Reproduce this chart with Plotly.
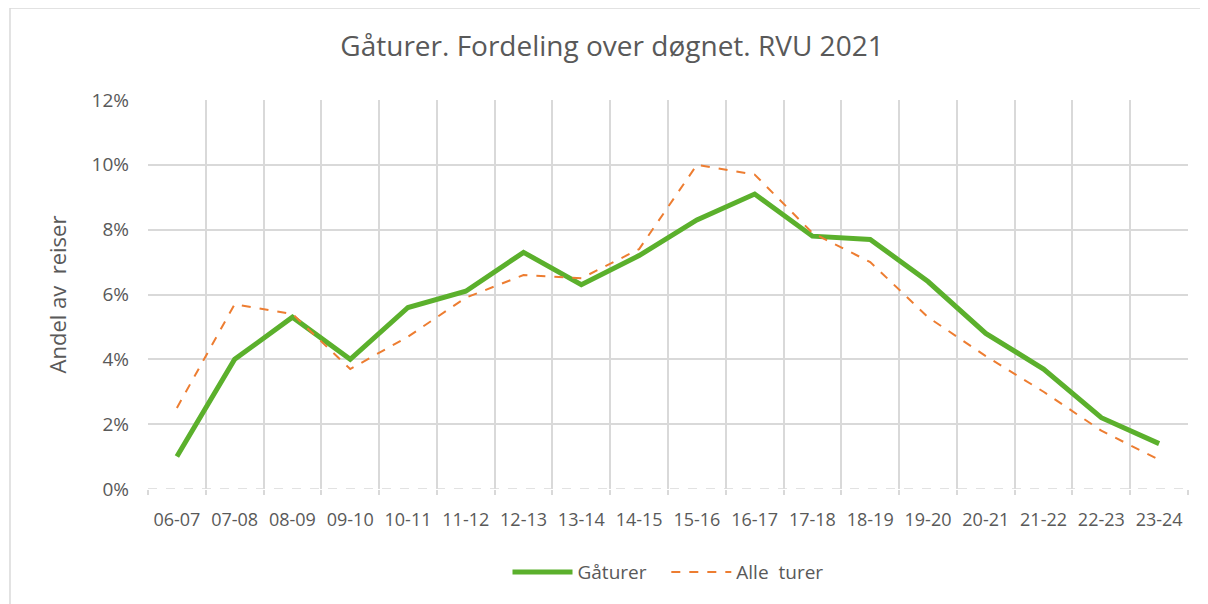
import plotly.graph_objects as go

# Time-of-day slots and share of trips (percent)
hours = ["06-07", "07-08", "08-09", "09-10", "10-11", "11-12", "12-13", "13-14", "14-15",
         "15-16", "16-17", "17-18", "18-19", "19-20", "20-21", "21-22", "22-23", "23-24"]
gaaturer = [1.0, 4.0, 5.3, 4.0, 5.6, 6.1, 7.3, 6.3, 7.2,
            8.3, 9.1, 7.8, 7.7, 6.4, 4.8, 3.7, 2.2, 1.4]
alle_turer = [2.5, 5.7, 5.4, 3.7, 4.7, 5.9, 6.6, 6.5, 7.4,
              10.0, 9.7, 7.9, 7.0, 5.3, 4.1, 3.0, 1.8, 0.9]

GREEN = "#5BB02C"
ORANGE = "#ED7D31"
GRID = "#D9D9D9"
TEXT = "#595959"
FONT = "Open Sans"

fig = go.Figure()
fig.add_trace(go.Scatter(
    x=hours, y=[v / 100 for v in gaaturer], name="Gåturer\u00a0\u00a0\u00a0", mode="lines",
    line={"color": GREEN, "width": 5},
))
fig.add_trace(go.Scatter(
    x=hours, y=[v / 100 for v in alle_turer], name="Alle\u00a0 turer", mode="lines",
    line={"color": ORANGE, "width": 2, "dash": "dash"},
))

# the page body has an 8px margin, so margins are shifted by that much
fig.update_layout(
    width=1208, height=604,
    paper_bgcolor="white", plot_bgcolor="white",
    margin={"l": 140, "r": 28, "t": 92, "b": 123},
    font={"family": FONT, "color": TEXT, "size": 18},
    title={"text": "Gåturer. Fordeling over døgnet. RVU 2021",
           "x": 0.5, "xanchor": "center", "y": 0.937, "yanchor": "middle",
           "font": {"size": 28, "color": TEXT}},
    showlegend=True,
    legend={"orientation": "h", "x": 0.5, "xanchor": "center",
            "y": -0.165, "yanchor": "top", "font": {"size": 19, "color": TEXT},
            "itemwidth": 60},
    hovermode=False,
)
fig.update_xaxes(
    type="category", tickson="boundaries", showgrid=True, gridcolor=GRID, gridwidth=1.5,
    ticks="outside", ticklen=5, tickcolor=GRID, tickwidth=1.5, tickangle=0,
    showline=False, zeroline=False, tickfont={"size": 18}, ticklabelstandoff=18,
    range=[-0.5, len(hours) - 0.5],
)
fig.update_yaxes(
    range=[0, 0.12], dtick=0.02, tickformat=".0%", showgrid=True, gridcolor=GRID,
    gridwidth=1.5, zeroline=False, showline=False, ticks="", tickfont={"size": 19},
    ticklabelstandoff=18,
    title={"text": "Andel av\u00a0 reiser", "font": {"size": 22, "color": TEXT}, "standoff": 18},
)

# dashed baseline and the outer chart border
fig.add_shape(type="line", xref="paper", yref="y", x0=0, x1=1, y0=0, y1=0,
              line={"color": GRID, "width": 1.5, "dash": "dash"})
fig.add_shape(type="rect", xref="paper", yref="paper", x0=-0.1327, x1=1.0173,
              y0=-0.3, y1=1.2365, line={"color": GRID, "width": 1.5}, layer="below")

fig.write_html("out.html")
